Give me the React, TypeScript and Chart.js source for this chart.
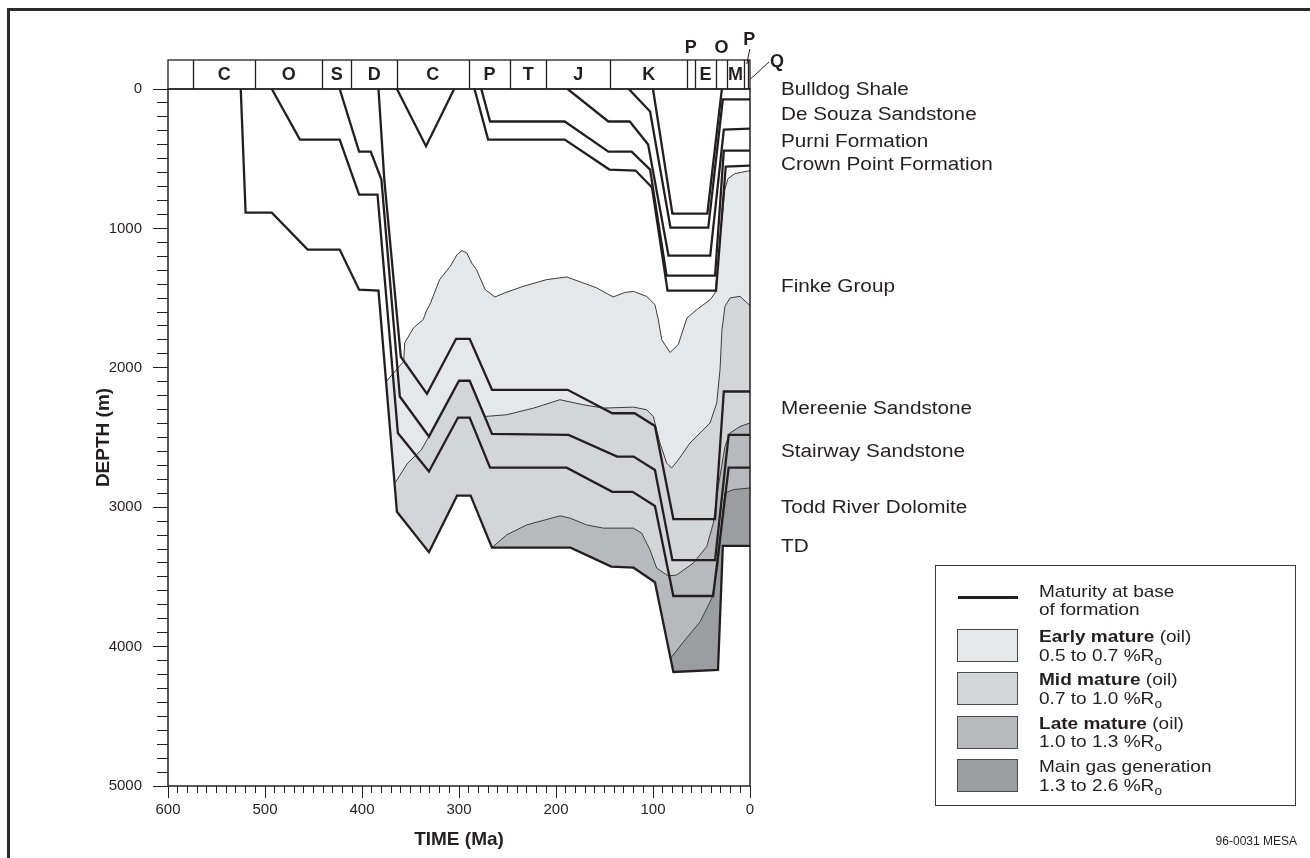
import React, { useEffect, useRef } from "react";
import { Chart, registerables } from "chart.js";

Chart.register(...registerables);

const FONT = '"Liberation Sans", Arial, Helvetica, sans-serif';
const INK = "#231f20";

// ---------- Burial history: base of each unit (time in Ma, depth in m) ----------
const toddTime = [525, 520, 493, 456, 423, 403, 383, 364, 331, 302, 288, 266, 185, 143, 120, 98, 79, 33, 28, 0];
const toddDepth = [0, 887, 887, 1152, 1152, 1440, 1447, 3033, 3323, 2917, 2917, 3290, 3290, 3426, 3434, 3538, 4182, 4168, 3278, 3278];

const stairTime = [493, 464, 423, 403, 384, 363, 331, 301, 289, 268, 189, 142, 121, 98, 79, 38, 22, 0];
const stairDepth = [0, 363, 363, 757, 757, 2468, 2744, 2357, 2357, 2716, 2716, 2890, 2890, 2991, 3637, 3637, 2716, 2716];

const mereTime = [423, 403, 391, 380, 361, 331, 300, 289, 266, 187, 137, 120, 98, 80, 36, 22, 0];
const mereDepth = [0, 449, 449, 650, 2206, 2493, 2093, 2093, 2474, 2481, 2637, 2637, 2733, 3380, 3380, 2481, 2481];

const finkeTime = [383, 377, 360, 333, 303, 289, 266, 188, 142, 119, 98, 79, 36, 27, 0];
const finkeDepth = [0, 650, 1921, 2187, 1792, 1792, 2158, 2158, 2326, 2326, 2417, 3085, 3085, 2170, 2170];

const carbTime = [364, 334, 305];
const carbDepth = [0, 410, 0];

const crownTime = [284, 270, 191, 145, 118, 101, 85, 35, 25, 0];
const crownDepth = [0, 363, 363, 578, 585, 707, 1447, 1447, 556, 549];

const purniTime = [277, 268, 191, 146, 122, 103, 86, 36, 27, 0];
const purniDepth = [0, 233, 233, 449, 449, 578, 1339, 1339, 442, 442];

const desouzaTime = [188, 146, 124, 105, 84, 41, 27, 0];
const desouzaDepth = [0, 233, 233, 398, 1195, 1195, 291, 284];

const bulldogTime = [125, 103, 82, 43, 28, 0];
const bulldogDepth = [0, 162, 994, 994, 75, 75];

const upperKTime = [100, 80, 44, 29];
const upperKDepth = [0, 894, 894, 0];

// ---------- Maturity isolines (%Ro) ----------
const ro05Time = [375, 357, 356, 347, 337, 333, 330, 320, 309, 302, 297, 292, 287, 282, 273, 263, 253, 234, 210, 189, 172, 158, 141, 129, 120, 106.5, 98, 94.5, 91, 82.5, 74, 65, 55, 41, 36, 26, 22.7, 15.5, 0];
const ro05Depth = [2098, 1954, 1822, 1714, 1655, 1583, 1547, 1368, 1272, 1188, 1159, 1176, 1248, 1296, 1439, 1492, 1463, 1416, 1368, 1348, 1391, 1427, 1492, 1459, 1452, 1488, 1547, 1655, 1798, 1890, 1834, 1643, 1583, 1511, 1463, 721, 643, 607, 585];

const ro07Time = [366, 353, 339, 331, 300, 289, 273, 251, 223, 196, 172, 151, 120, 106.5, 99.7, 92.8, 85.9, 80.7, 73.9, 61.9, 41.2, 34.3, 30.9, 28.9, 25.8, 20.6, 10.3, 0];
const ro07Depth = [2827, 2684, 2591, 2493, 2093, 2093, 2349, 2337, 2289, 2229, 2265, 2289, 2282, 2301, 2349, 2540, 2684, 2719, 2660, 2540, 2396, 2253, 2014, 1727, 1559, 1499, 1487, 1554];

const ro10Time = [266, 250.8, 230.2, 195.9, 185.6, 168.4, 151.2, 120.3, 111.6, 103.1, 96.2, 84.2, 75.6, 58.5, 44.6, 37.8, 32.7, 25.8, 20.6, 10.3, 0];
const ro10Depth = [3290, 3198, 3127, 3062, 3078, 3127, 3150, 3150, 3186, 3306, 3437, 3493, 3486, 3401, 3282, 3114, 2852, 2564, 2468, 2421, 2396];

const ro13Time = [81.9, 67, 51.5, 39.2, 33, 28.9, 25.8, 17.2, 0];
const ro13Depth = [4084, 3952, 3823, 3651, 3414, 3091, 2898, 2874, 2862];

// ---------- Geological time scale ----------
const periodBounds = [600, 574, 510, 441, 411, 364, 290, 247, 210, 144, 65, 57, 35, 24, 6, 1.6, 0];
const periodInside = ["", "C", "O", "S", "D", "C", "P", "T", "J", "K", "", "E", "", "M", "", ""];
const periodAbove = ["", "", "", "", "", "", "", "", "", "", "P", "", "O", "", "P", "Q"];

// ---------- Formation names and legend ----------
const formationNames = ["Bulldog Shale", "De Souza Sandstone", "Purni Formation", "Crown Point Formation", "Finke Group", "Mereenie Sandstone", "Stairway Sandstone", "Todd River Dolomite", "TD"];
const formationLabelY = [89, 114, 141, 164, 286, 408, 451, 507, 546];

const legendBold = ["Early mature", "Mid mature", "Late mature", ""];
const legendRest = [" (oil)", " (oil)", " (oil)", "Main gas generation"];
const legendRange = ["0.5 to 0.7 %R", "0.7 to 1.0 %R", "1.0 to 1.3 %R", "1.3 to 2.6 %R"];
const zoneColors = ["#e6e7e9", "#d4d5d7", "#b8b9bc", "#9c9da0"];

type P = { x: number; y: number };
const pts = (t: number[], d: number[]): P[] => t.map((v, i) => ({ x: v, y: d[i] }));
const tdPts = pts(toddTime, toddDepth);
const tdBetween = (lo: number, hi: number): P[] =>
  tdPts.filter((p) => p.x > lo && p.x < hi).sort((a, b) => a.x - b.x);

const ro05 = pts(ro05Time, ro05Depth);
const ro07 = pts(ro07Time, ro07Depth);
const ro10 = pts(ro10Time, ro10Depth);
const ro13 = pts(ro13Time, ro13Depth);

const earlyPoly = [...ro05, ...[...ro07].reverse(), ...tdBetween(ro07Time[0], ro05Time[0])];
const midPoly = [...ro07, ...[...ro10].reverse(), ...tdBetween(ro10Time[0], ro07Time[0])];
const latePoly = [...ro10, ...[...ro13].reverse(), ...tdBetween(ro13Time[0], ro10Time[0])];
const gasPoly = [...ro13, tdPts[tdPts.length - 1], ...tdBetween(0, ro13Time[0])];

const periodPlugin = {
  id: "periodBar",
  afterDatasetsDraw(chart: any) {
    const { ctx, chartArea: a, scales } = chart;
    const xs = scales.x;
    const barH = 29;
    const top = a.top - barH;
    ctx.save();
    ctx.strokeStyle = INK;
    ctx.lineWidth = 1.5;
    ctx.strokeRect(a.left, a.top, a.right - a.left, a.bottom - a.top);
    ctx.lineWidth = 1.3;
    ctx.strokeRect(a.left, top, a.right - a.left, barH);
    ctx.beginPath();
    periodBounds.forEach((b) => {
      if (b <= 0 || b >= 600) return;
      const px = Math.round(xs.getPixelForValue(b)) + 0.5;
      ctx.moveTo(px, top);
      ctx.lineTo(px, a.top);
    });
    ctx.stroke();
    ctx.fillStyle = INK;
    ctx.font = `bold 18px ${FONT}`;
    ctx.textAlign = "center";
    ctx.textBaseline = "middle";
    for (let i = 0; i < periodInside.length; i++) {
      const x0 = xs.getPixelForValue(periodBounds[i]);
      const x1 = xs.getPixelForValue(periodBounds[i + 1]);
      const cx = (x0 + x1) / 2;
      if (periodInside[i]) ctx.fillText(periodInside[i], cx, top + barH / 2 + 1);
      const lab = periodAbove[i];
      if (!lab) continue;
      if (lab === "Q") {
        ctx.fillText(lab, a.right + 27, top + 2);
        ctx.lineWidth = 1;
        ctx.beginPath();
        ctx.moveTo(a.right + 19, top + 2);
        ctx.lineTo(a.right + 0.5, top + 19);
        ctx.stroke();
      } else if (i === 14) {
        ctx.fillText(lab, cx + 3, top - 20);
        ctx.lineWidth = 1;
        ctx.beginPath();
        ctx.moveTo(cx + 3.5, top - 11);
        ctx.lineTo(cx + 0.5, top + 4);
        ctx.stroke();
      } else {
        ctx.fillText(lab, cx, top - 12);
      }
    }
    ctx.restore();
  },
};

const lineDs = (t: number[], d: number[]) => ({
  data: pts(t, d),
  borderColor: INK,
  borderWidth: 2.3,
  pointRadius: 0,
  fill: false,
  order: 1,
});
const isoDs = (p: P[]) => ({
  data: p,
  borderColor: "#3a3a3a",
  borderWidth: 1,
  pointRadius: 0,
  fill: false,
  order: 3,
});
const zoneDs = (p: P[], c: string) => ({
  data: p,
  borderColor: "rgba(0,0,0,0)",
  borderWidth: 0,
  backgroundColor: c,
  pointRadius: 0,
  fill: "shape",
  order: 5,
});

export default function App() {
  const ref = useRef<HTMLCanvasElement>(null);
  useEffect(() => {
    const tickFont = { family: FONT, size: 15 };
    const titleFont = { family: FONT, size: 19, weight: "bold" as const };
    const chart = new Chart(ref.current as HTMLCanvasElement, {
      type: "line",
      data: {
        datasets: [
          zoneDs(earlyPoly, zoneColors[0]),
          zoneDs(midPoly, zoneColors[1]),
          zoneDs(latePoly, zoneColors[2]),
          zoneDs(gasPoly, zoneColors[3]),
          isoDs(ro05),
          isoDs(ro07),
          isoDs(ro10),
          isoDs(ro13),
          lineDs(toddTime, toddDepth),
          lineDs(stairTime, stairDepth),
          lineDs(mereTime, mereDepth),
          lineDs(finkeTime, finkeDepth),
          lineDs(carbTime, carbDepth),
          lineDs(crownTime, crownDepth),
          lineDs(purniTime, purniDepth),
          lineDs(desouzaTime, desouzaDepth),
          lineDs(bulldogTime, bulldogDepth),
          lineDs(upperKTime, upperKDepth),
        ] as any,
      },
      options: {
        responsive: false,
        animation: false,
        devicePixelRatio: 1,
        events: [],
        layout: { padding: { left: 8, top: 89, right: 560, bottom: 0 } },
        elements: { line: { tension: 0 } },
        plugins: { legend: { display: false }, tooltip: { enabled: false } },
        scales: {
          x: {
            type: "linear", position: "bottom", reverse: true, min: 0, max: 600, weight: 0,
            ticks: { stepSize: 10, display: false },
            grid: { drawOnChartArea: false, tickLength: 7, color: INK, lineWidth: 1 },
            border: { display: false },
            afterFit: (s: any) => { s.height = 0; },
          },
          x2: {
            type: "linear", position: "bottom", reverse: true, min: 0, max: 600, weight: 1,
            ticks: { stepSize: 100, autoSkip: false, maxRotation: 0, padding: 3, color: INK, font: tickFont, callback: (v: any) => String(v) },
            grid: { drawOnChartArea: false, tickLength: 12, color: INK, lineWidth: 1 },
            border: { display: false },
            title: { display: true, text: "TIME (Ma)", color: INK, font: titleFont, padding: { top: 0, bottom: 7 } },
            afterFit: (s: any) => { s.height = 72; },
          },
          y: {
            type: "linear", position: "left", reverse: true, min: 0, max: 5000, weight: 0,
            ticks: { stepSize: 100, display: false },
            grid: { drawOnChartArea: false, tickLength: 11, color: INK, lineWidth: 1 },
            border: { display: false },
            afterFit: (s: any) => { s.width = 0; },
          },
          y2: {
            type: "linear", position: "left", reverse: true, min: 0, max: 5000, weight: 1,
            ticks: { stepSize: 1000, autoSkip: false, padding: 11, color: INK, font: tickFont, callback: (v: any) => String(v) },
            grid: { drawOnChartArea: false, tickLength: 15, color: INK, lineWidth: 1 },
            border: { display: false },
            title: { display: true, text: "DEPTH (m)", color: INK, font: titleFont, padding: { top: 84, bottom: 0 } },
            afterFit: (s: any) => { s.width = 160; },
          },
        } as any,
      },
      plugins: [periodPlugin],
    } as any);
    return () => chart.destroy();
  }, []);

  const sub = (
    <span style={{ fontSize: 12, position: "relative", top: 4 }}>o</span>
  );
  const wide = (k: number) => ({ transform: `scaleX(${k})`, transformOrigin: "0 50%" });

  return (
    <div style={{ position: "fixed", left: 0, top: 0, width: 1310, height: 858, background: "#fff", fontFamily: FONT, color: INK, overflow: "hidden" }}>
      <canvas ref={ref} width={1310} height={858} style={{ position: "absolute", left: 0, top: 0, width: 1310, height: 858 }} />
      <div style={{ position: "absolute", left: 7, top: 8, width: 1303, height: 3, background: "#2a2a2a" }} />
      <div style={{ position: "absolute", left: 7, top: 8, width: 3, height: 850, background: "#2a2a2a" }} />
      {formationNames.map((n, i) => (
        <div key={n} style={{ position: "absolute", left: 781, top: formationLabelY[i] - 11, fontSize: 18, lineHeight: "22px", whiteSpace: "nowrap", ...wide(1.15) }}>{n}</div>
      ))}
      <div style={{ position: "absolute", left: 935, top: 565, width: 361, height: 241, border: "1.5px solid #3a3a3a", boxSizing: "border-box" }} />
      <div style={{ position: "absolute", left: 958, top: 596, width: 60, height: 3, background: INK }} />
      <div style={{ position: "absolute", left: 1039, top: 583, fontSize: 17, lineHeight: "17.5px", whiteSpace: "nowrap", ...wide(1.12) }}>Maturity at base<br />of formation</div>
      {legendRange.map((r, i) => (
        <React.Fragment key={r}>
          <div style={{ position: "absolute", left: 957, top: 629 + i * 43.4, width: 61, height: 33, background: zoneColors[i], border: "1px solid #4a4a4a", boxSizing: "border-box" }} />
          <div style={{ position: "absolute", left: 1039, top: 628 + i * 43.4, fontSize: 17, lineHeight: "18.5px", whiteSpace: "nowrap", ...wide(1.12) }}>
            {legendBold[i] ? <b>{legendBold[i]}</b> : null}{legendRest[i]}<br />{r}{sub}
          </div>
        </React.Fragment>
      ))}
      <div style={{ position: "absolute", right: 13, top: 834, fontSize: 12, whiteSpace: "nowrap" }}>96-0031 MESA</div>
    </div>
  );
}
